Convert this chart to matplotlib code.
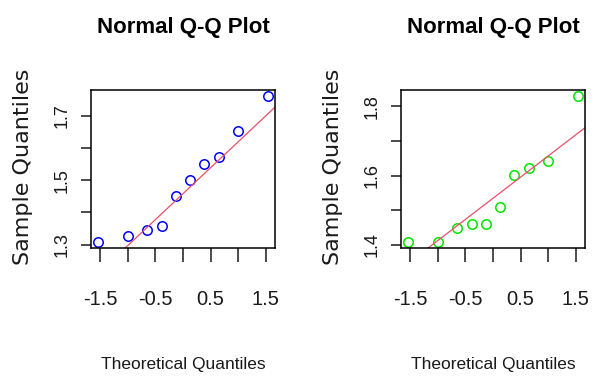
import numpy as np
import matplotlib
matplotlib.use("Agg")
import matplotlib.pyplot as plt

# theoretical normal quantiles (same for both samples, n = 10)
theo = [-1.547, -1.000, -0.656, -0.376, -0.123, 0.123, 0.376, 0.656, 1.000, 1.547]

# sorted sample values
left_y = [1.308, 1.326, 1.347, 1.359, 1.452, 1.500, 1.549, 1.572, 1.652, 1.761]
right_y = [1.408, 1.408, 1.450, 1.460, 1.460, 1.510, 1.601, 1.622, 1.642, 1.830]

left_yticks = [1.3, 1.4, 1.5, 1.6, 1.7]
left_ylabels = ["1.3", "", "1.5", "", "1.7"]
right_yticks = [1.4, 1.5, 1.6, 1.7, 1.8]
right_ylabels = ["1.4", "", "1.6", "", "1.8"]
xticks = [-1.5, -1.0, -0.5, 0.0, 0.5, 1.0, 1.5]
xlabels = ["-1.5", "", "-0.5", "", "0.5", "", "1.5"]

W, H = 596, 378
arial = "Liberation Sans"

fig = plt.figure(figsize=(W / 100, H / 100), dpi=100)


def rng(v):
    lo, hi = min(v), max(v)
    d = (hi - lo) * 0.04
    return lo - d, hi + d


def qq_panel(x0, y, color, yticks, ylabels):
    # axes box in pixel coords: left x0, width 184, top 90, bottom 248
    ax = fig.add_axes([x0 / W, 1 - 248 / H, 184 / W, 158 / H])
    ax.plot(theo, y, "o", mfc="none", mec=color, ms=6.8, mew=1.1)

    q1, q3 = np.quantile(y, [0.25, 0.75])
    slope = (q3 - q1) / (2 * 0.6745)
    icpt = q1 + 0.6745 * slope
    ax.axline((0, icpt), slope=slope, color="#e8506a", lw=0.9)

    ax.set_xlim(rng(theo))
    ax.set_ylim(rng(y))
    ax.set_xticks(xticks)
    ax.set_xticklabels(xlabels, family=arial, fontsize=14.5)
    ax.set_yticks(yticks)
    ax.set_yticklabels(ylabels, family=arial, fontsize=13,
                       rotation=90, va="center")
    ax.tick_params(axis="x", length=10, width=1.1, pad=20, colors="#1a1a1a")
    ax.tick_params(axis="y", length=7.2, width=1.1, pad=7.5, colors="#1a1a1a")
    for s in ax.spines.values():
        s.set_linewidth(1.1)

    cx = (x0 + 92) / W
    fig.text(cx, 1 - 33 / H, "Normal Q-Q Plot", ha="center", va="baseline",
             family=arial, fontsize=16, fontweight="bold")
    fig.text(cx, 1 - 369.5 / H, "Theoretical Quantiles", ha="center",
             va="baseline", family=arial, fontsize=12.5, color="#1a1a1a")
    fig.text((x0 - 68) / W, 1 - 167 / H, "Sample Quantiles", ha="center",
             va="center", rotation=90, family="DejaVu Sans", fontsize=16,
             color="#1a1a1a")
    return ax


qq_panel(91, left_y, "blue", left_yticks, left_ylabels)
qq_panel(401, right_y, "#00e600", right_yticks, right_ylabels)

fig.savefig("out.png", dpi=100)
